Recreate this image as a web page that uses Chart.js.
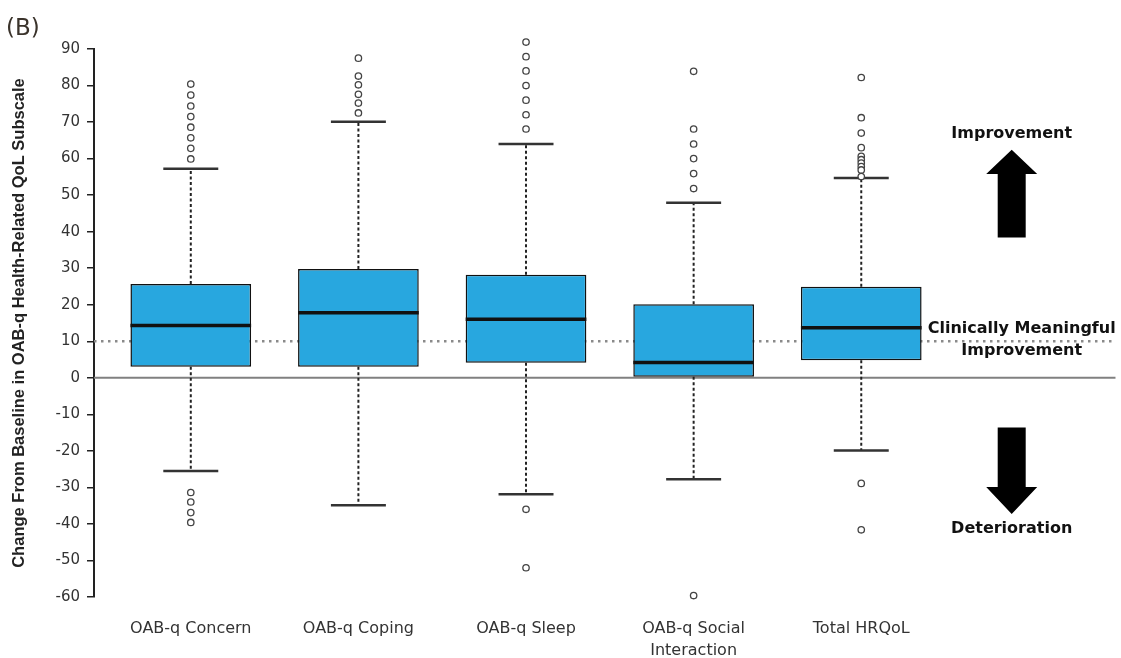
<!DOCTYPE html>
<html>
<head>
<meta charset="utf-8">
<script src="https://cdn.jsdelivr.net/npm/chart.js@4.4.1/dist/chart.umd.min.js"></script>
<style>
html,body{margin:0;padding:0;background:#fff;}
#wrap{width:1121px;height:658px;}
</style>
</head>
<body>
<div id="wrap"><canvas id="c" width="1121" height="658"></canvas></div>
<script>
// ---- data ----
const categories = ['OAB-q Concern', 'OAB-q Coping', 'OAB-q Sleep', ['OAB-q Social', 'Interaction'], 'Total HRQoL'];
const q1 = [3.0, 3.0, 4.1, 0.3, 4.8];
const median = [14.3, 17.8, 16.0, 4.2, 13.7];
const q3 = [25.7, 29.8, 28.2, 20.1, 24.9];
const whiskerLow = [-25.5, -34.9, -31.9, -27.8, -19.9];
const whiskerHigh = [57.2, 70.1, 64.0, 47.9, 54.7];
const outliersConcern = [80.4, 77.4, 74.4, 71.5, 68.6, 65.7, 62.8, 59.9, -31.4, -34.0, -36.9, -39.6];
const outliersCoping = [87.5, 82.6, 80.2, 77.6, 75.2, 72.5];
const outliersSleep = [91.9, 87.9, 84.0, 80.0, 76.0, 72.0, 68.1, -36.0, -52.0];
const outliersSocial = [83.9, 68.1, 64.0, 60.0, 55.9, 51.8, -59.6];
const outliersTotal = [82.2, 71.2, 67.0, 63.0, 60.6, 59.7, 58.8, 57.8, 56.9, 55.1, -28.9, -41.6];
const yTicks = {min: -60, max: 90, step: 10};
const meaningfulChange = 10;
const yTitle = 'Change From Baseline in OAB-q Health-Related QoL Subscale';

// ---- layout constants ----
const X_MIN = 0.4226, X_MAX = 6.518;
const BOX_HALF = 0.36, CAP_HALF = 0.164;

const outlierSets = [outliersConcern, outliersCoping, outliersSleep, outliersSocial, outliersTotal];
const boxData = categories.map((c, i) => ({x: i + 1, y: [q1[i], q3[i]]}));
const whiskerData = [], capData = [], medianData = [], outlierData = [];
categories.forEach((c, i) => {
  const x = i + 1;
  whiskerData.push({x, y: q3[i]}, {x, y: whiskerHigh[i]}, {x, y: null},
                   {x, y: q1[i]}, {x, y: whiskerLow[i]}, {x, y: null});
  capData.push({x: x - CAP_HALF, y: whiskerHigh[i]}, {x: x + CAP_HALF, y: whiskerHigh[i]}, {x, y: null},
               {x: x - CAP_HALF, y: whiskerLow[i]}, {x: x + CAP_HALF, y: whiskerLow[i]}, {x, y: null});
  medianData.push({x: x - BOX_HALF, y: median[i]}, {x: x + BOX_HALF, y: median[i]}, {x, y: null});
  outlierSets[i].forEach(v => outlierData.push({x, y: v}));
});

// let the outlier points just beyond the axis range still be drawn (as in the reference)
const OUTLIER_INDEX = 6;
const widenArea = {
  id: 'widenArea',
  beforeDatasetDraw(chart, args) {
    if (args.index !== OUTLIER_INDEX) return;
    this._saved = chart.chartArea;
    const a = chart.chartArea;
    chart.chartArea = {left: a.left, right: a.right, top: a.top - 20, bottom: a.bottom + 20,
                       width: a.width, height: a.height + 40};
  },
  afterDatasetDraw(chart, args) {
    if (args.index !== OUTLIER_INDEX || !this._saved) return;
    chart.chartArea = this._saved;
    this._saved = null;
  }
};

const annotations = {
  id: 'annotations',
  afterDatasetsDraw(chart) {
    const ctx = chart.ctx, ys = chart.scales.y, area = chart.chartArea;
    const ax = area.right - 104;      // arrow column
    const cx = area.right - 94;       // clinically meaningful label
    ctx.save();
    ctx.fillStyle = '#111';
    ctx.textAlign = 'center';
    ctx.textBaseline = 'middle';
    ctx.font = 'bold 16px "DejaVu Sans"';
    ctx.fillText('Improvement', ax, ys.getPixelForValue(66.8));
    ctx.fillText('Clinically Meaningful', cx, ys.getPixelForValue(13.5));
    ctx.fillText('Improvement', cx, ys.getPixelForValue(7.5));
    ctx.fillText('Deterioration', ax, ys.getPixelForValue(-41.4));
    // up arrow
    const hw = 25.5, sw = 14;
    let tip = ys.getPixelForValue(62.4), base = ys.getPixelForValue(55.8), end = ys.getPixelForValue(38.4);
    ctx.fillStyle = '#000';
    ctx.beginPath();
    ctx.moveTo(ax, tip); ctx.lineTo(ax + hw, base); ctx.lineTo(ax + sw, base);
    ctx.lineTo(ax + sw, end); ctx.lineTo(ax - sw, end); ctx.lineTo(ax - sw, base);
    ctx.lineTo(ax - hw, base); ctx.closePath(); ctx.fill();
    // down arrow
    const top = ys.getPixelForValue(-13.6), hb = ys.getPixelForValue(-29.9), dt = ys.getPixelForValue(-37.3);
    ctx.beginPath();
    ctx.moveTo(ax - sw, top); ctx.lineTo(ax + sw, top); ctx.lineTo(ax + sw, hb);
    ctx.lineTo(ax + hw, hb); ctx.lineTo(ax, dt); ctx.lineTo(ax - hw, hb);
    ctx.lineTo(ax - sw, hb); ctx.closePath(); ctx.fill();
    // panel label
    ctx.textAlign = 'left';
    ctx.textBaseline = 'alphabetic';
    ctx.fillStyle = '#3a332b';
    ctx.font = '23px "DejaVu Sans"';
    ctx.fillText('(B)', 6, 35);
    ctx.restore();
  }
};

new Chart(document.getElementById('c'), {
  type: 'scatter',
  data: {
    datasets: [
      {type: 'line', data: [{x: X_MIN, y: 0}, {x: X_MAX, y: 0}], borderColor: '#808080', borderWidth: 2,
       pointRadius: 0, order: 10},
      {type: 'line', data: [{x: X_MIN, y: meaningfulChange}, {x: X_MAX, y: meaningfulChange}], borderColor: '#8a8a8a',
       borderWidth: 2.5, borderDash: [2.5, 4.5], pointRadius: 0, order: 9},
      {type: 'line', data: whiskerData, borderColor: '#222', borderWidth: 2, borderDash: [3, 2.5],
       pointRadius: 0, spanGaps: false, order: 8},
      {type: 'bar', data: boxData, backgroundColor: '#28a7df', borderColor: '#111', borderWidth: 1.5,
       borderSkipped: false, categoryPercentage: 1, barPercentage: 0.72, order: 5},
      {type: 'line', data: capData, borderColor: '#333', borderWidth: 2.5, pointRadius: 0, spanGaps: false, order: 3},
      {type: 'line', data: medianData, borderColor: '#111', borderWidth: 3.5, pointRadius: 0, spanGaps: false, order: 2},
      {type: 'scatter', data: outlierData, pointRadius: 3.2, pointBorderWidth: 1.3, pointBorderColor: '#444',
       pointBackgroundColor: '#fff', clip: false, order: 1}
    ]
  },
  options: {
    responsive: false,
    animation: false,
    layout: {padding: {top: 49, right: 3, left: 0, bottom: 0}},
    plugins: {legend: {display: false}, tooltip: {enabled: false}, title: {display: false}},
    scales: {
      x: {
        type: 'linear', min: X_MIN, max: X_MAX, offset: false,
        grid: {display: false, drawTicks: false}, border: {display: false},
        afterBuildTicks: s => { s.ticks = categories.map((c, i) => ({value: i + 1})); },
        ticks: {autoSkip: false, maxRotation: 0, padding: 21, color: '#333',
                font: {family: 'DejaVu Sans', size: 16, lineHeight: 1.35},
                callback: v => categories[Math.round(v) - 1]},
        afterFit: s => { s.height = 61; }
      },
      y: {
        type: 'linear', min: yTicks.min, max: yTicks.max,
        ticks: {stepSize: yTicks.step, padding: 7, color: '#333', font: {family: 'DejaVu Sans', size: 15}},
        grid: {display: true, drawOnChartArea: false, drawTicks: true, tickLength: 7, color: '#222', lineWidth: 1.5},
        border: {display: true, color: '#222', width: 2},
        title: {display: true, text: yTitle, color: '#222',
                font: {family: 'Liberation Sans', size: 16.5, weight: 'bold'}, padding: {top: 10, bottom: 0}},
        afterFit: s => { s.width = 94; }
      }
    }
  },
  plugins: [widenArea, annotations]
});
</script>
</body>
</html>
